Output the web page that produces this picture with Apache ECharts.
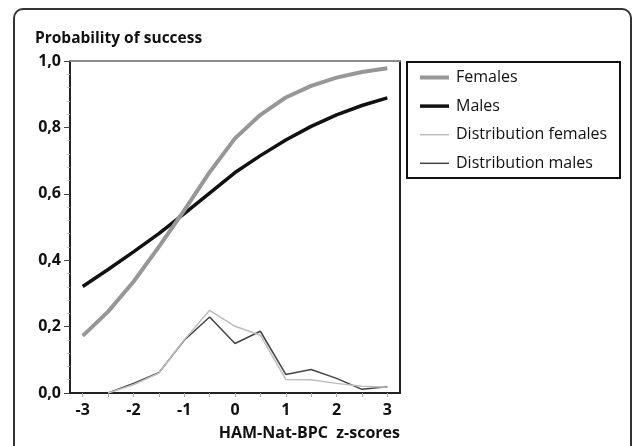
<!DOCTYPE html>
<html><head><meta charset="utf-8">
<script src="https://cdn.jsdelivr.net/npm/echarts@6/dist/echarts.min.js"></script>
<style>html,body{margin:0;padding:0;background:#fff}#c{width:633px;height:446px}</style>
</head><body><div id="c"></div>
<script>
var zScores = [-3, -2.5, -2, -1.5, -1, -0.5, 0, 0.5, 1, 1.5, 2, 2.5, 3];
var females = [0.172, 0.245, 0.335, 0.44, 0.55, 0.665, 0.767, 0.838, 0.89, 0.925, 0.95, 0.967, 0.978];
var males = [0.321, 0.372, 0.425, 0.48, 0.54, 0.602, 0.664, 0.715, 0.762, 0.803, 0.838, 0.866, 0.889];
var distFemales = [null, 0, 0.025, 0.06, 0.16, 0.249, 0.201, 0.174, 0.041, 0.04, 0.029, 0.02, 0.017];
var distMales = [null, 0, 0.029, 0.061, 0.159, 0.229, 0.149, 0.186, 0.056, 0.071, 0.044, 0.011, 0.019];
var xTickLabels = [-3, -2, -1, 0, 1, 2, 3];
var xMinorTicks = [-3, -2.5, -2, -1.5, -1, -0.5, 0, 0.5, 1, 1.5, 2, 2.5, 3];
var seriesNames = ['Females', 'Males', 'Distribution females', 'Distribution males'];

function pairs(vals) {
  var out = [];
  for (var i = 0; i < zScores.length; i++) {
    if (vals[i] !== null) out.push([zScores[i], vals[i]]);
  }
  return out;
}
var FONT = 'Open Sans';
var chart = echarts.init(document.getElementById('c'));
var styles = [
  {color: '#979797', width: 4},
  {color: '#111111', width: 3.5},
  {color: '#bdbdbd', width: 1.5},
  {color: '#444444', width: 1.5}
];
var dataSets = [females, males, distFemales, distMales];
chart.setOption({
  animation: false,
  grid: {left: 70, right: 233, top: 61, bottom: 53},
  title: {
    text: 'Probability of success', left: 30, top: 26,
    textStyle: {fontFamily: FONT, fontWeight: 'bold', fontSize: 15.5, color: '#111'}
  },
  legend: {
    orient: 'vertical', left: 413, top: 64.5, itemWidth: 29, itemHeight: 14, itemGap: 12.6,
    data: seriesNames.map(function (n, i) {
      return {name: n, itemStyle: {opacity: 0}, lineStyle: {width: styles[i].width, color: styles[i].color}};
    }),
    textStyle: {fontFamily: FONT, fontSize: 16, color: '#111', padding: [0, 0, 0, 2]}
  },
  xAxis: [{
    type: 'value', min: -3.25, max: 3.25,
    name: 'HAM-Nat-BPC  z-scores', nameLocation: 'end',
    nameGap: 0,
    nameTextStyle: {fontFamily: FONT, fontWeight: 'bold', fontSize: 16, color: '#111',
      align: 'right', verticalAlign: 'top', padding: [32, 0, 0, 0]},
    splitLine: {show: false},
    axisLine: {onZero: false, lineStyle: {color: '#222', width: 2}},
    axisTick: {customValues: xMinorTicks, length: 4, lineStyle: {color: '#aaa'}},
    axisLabel: {customValues: xTickLabels, margin: 9, fontFamily: FONT, fontWeight: 'bold', fontSize: 16, color: '#111'}
  }, {
    type: 'value', min: -3.25, max: 3.25, position: 'top',
    splitLine: {show: false}, axisTick: {show: false}, axisLabel: {show: false},
    axisLine: {show: true, onZero: false, lineStyle: {color: '#8a8a8a', width: 2}}
  }],
  yAxis: [{
    type: 'value', min: 0, max: 1, interval: 0.2,
    splitLine: {show: false},
    axisLine: {show: true, onZero: false, lineStyle: {color: '#222', width: 2}},
    axisTick: {show: true, length: 6, lineStyle: {color: '#444'}},
    minorTick: {show: true, splitNumber: 5, length: 3, lineStyle: {color: '#bbb'}},
    axisLabel: {margin: 9, fontFamily: FONT, fontWeight: 'bold', fontSize: 16, color: '#111',
      formatter: function (v) { return v.toFixed(1).replace('.', ','); }}
  }, {
    type: 'value', min: 0, max: 1, position: 'right',
    splitLine: {show: false}, axisTick: {show: false}, axisLabel: {show: false},
    axisLine: {show: true, onZero: false, lineStyle: {color: '#222', width: 2}}
  }],
  graphic: [
    {type: 'rect', shape: {x: 14, y: 9, width: 617, height: 480, r: 9}, style: {fill: 'none', stroke: '#333', lineWidth: 2}, z: 0},
    {type: 'rect', shape: {x: 407, y: 62, width: 213, height: 116}, style: {fill: '#fff', stroke: '#111', lineWidth: 2}, z: 0}
  ],
  series: seriesNames.map(function (n, i) {
    return {
      name: n, type: 'line', symbol: 'none', data: pairs(dataSets[i]),
      lineStyle: styles[i], itemStyle: {color: styles[i].color}, z: 10 - i
    };
  })
});
</script></body></html>
